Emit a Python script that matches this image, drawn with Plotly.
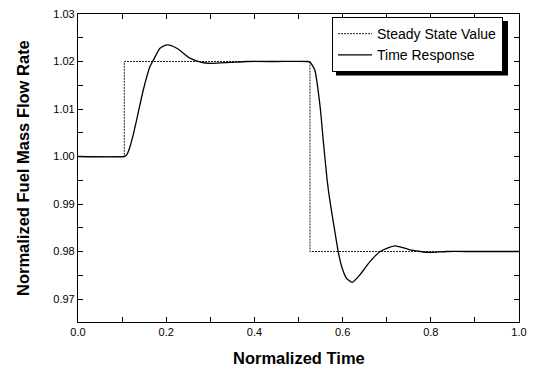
import plotly.graph_objects as go

# Steady state (step) values
steady_t = [0.0, 0.105, 0.526, 1.0]
steady_v = [1.0, 1.02, 0.98, 0.98]

# Time response
resp_t = [0.0, 0.105, 0.109, 0.113, 0.118, 0.125, 0.133, 0.148, 0.163, 0.171, 0.186, 0.2025, 0.224,
          0.254, 0.28, 0.30, 0.345, 0.383, 0.45, 0.52, 0.526, 0.530, 0.537, 0.549, 0.556, 0.565,
          0.571, 0.583, 0.590, 0.598, 0.609, 0.622, 0.639, 0.662, 0.685, 0.719,
          0.753, 0.776, 0.80, 0.836, 0.9, 1.0]
resp_v = [1.0, 1.0, 1.0002, 1.0008, 1.0021, 1.0045, 1.0077, 1.014, 1.0189, 1.0203, 1.0228, 1.0235, 1.0228,
          1.0207, 1.0198, 1.0196, 1.0198, 1.0200, 1.0200, 1.0200, 1.0199, 1.0194, 1.0182, 1.0105, 1.0035, 0.995,
          0.9908, 0.9839, 0.9800, 0.9768, 0.97436, 0.97351, 0.97505, 0.97786, 0.9800, 0.9812,
          0.98035, 0.9800, 0.9798, 0.9800, 0.9800, 0.9800]

FONT = "Arial, Liberation Sans, sans-serif"

fig = go.Figure()
fig.add_trace(go.Scatter(x=steady_t, y=steady_v, mode="lines", name="Steady State Value",
                         line=dict(color="#222222", width=1, dash="2px,1px", shape="hv")))
fig.add_trace(go.Scatter(x=resp_t, y=resp_v, mode="lines", name="Time Response",
                         line=dict(color="black", width=1.3, shape="spline", smoothing=0.6)))

# legend drop shadow
fig.add_shape(type="rect", xref="paper", yref="paper", x0=0.585, x1=0.975, y0=0.800, y1=0.977,
              fillcolor="black", line=dict(width=0), layer="above")

axis_common = dict(showline=True, linecolor="black", linewidth=1.2, mirror="ticks",
                   ticks="inside", ticklen=5, tickcolor="black", tickwidth=1,
                   showgrid=False, zeroline=False, automargin=False,
                   tickfont=dict(family=FONT, size=11, color="black"))

fig.update_xaxes(range=[0, 1], dtick=0.2, tick0=0, tickformat=".1f",
                 minor=dict(dtick=0.1, ticks="inside", ticklen=5, tickcolor="black", showgrid=False),
                 **axis_common)
fig.update_yaxes(range=[0.96516, 1.03], dtick=0.01, tick0=0.97, tickformat=".2f",
                 minor=dict(dtick=0.005, tick0=0.965, ticks="inside", ticklen=5, tickcolor="black", showgrid=False),
                 **axis_common)

fig.add_annotation(text="<b>Normalized Time</b>", xref="paper", yref="paper", x=0.5, y=-0.117,
                   xanchor="center", yanchor="middle", showarrow=False,
                   font=dict(family=FONT, size=16.5, color="black"))
fig.add_annotation(text="<b>Normalized Fuel Mass Flow Rate</b>", xref="paper", yref="paper",
                   x=-0.1247, y=0.5, xanchor="center", yanchor="middle", textangle=-90, showarrow=False,
                   font=dict(family=FONT, size=16.5, color="black"))

fig.update_layout(
    width=534, height=366,
    margin=dict(l=78, r=15, t=14, b=44),
    paper_bgcolor="white", plot_bgcolor="white",
    font=dict(family=FONT, color="black"),
    showlegend=True,
    legend=dict(x=0.576, y=0.99, xanchor="left", yanchor="top",
                bgcolor="white", bordercolor="black", borderwidth=1,
                font=dict(family=FONT, size=14, color="black"),
                tracegroupgap=0, itemwidth=34),
)

fig.write_html("out.html", config={"displayModeBar": False},
               post_script="document.body.style.margin='0';document.body.style.overflow='hidden';")
